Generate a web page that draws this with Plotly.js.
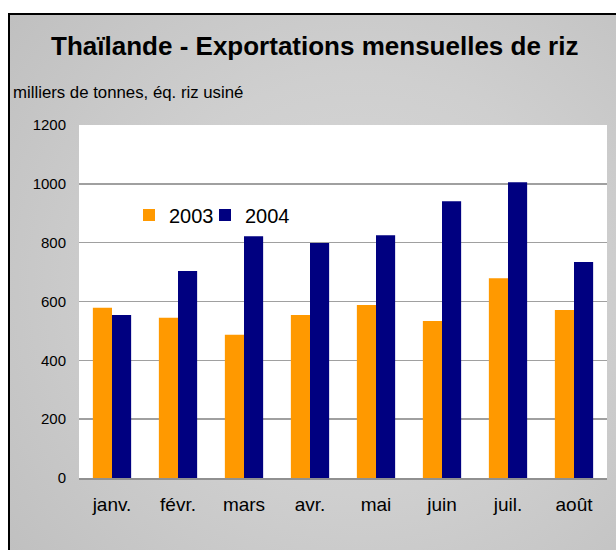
<!DOCTYPE html>
<html>
<head>
<meta charset="utf-8">
<script src="https://cdn.plot.ly/plotly-3.0.1.min.js"></script>
<style>
  html, body { margin: 0; padding: 0; background: #ffffff; width: 616px; height: 550px; overflow: hidden; }
  #frame { position: absolute; left: 8px; top: 13px; width: 700px; height: 600px;
           border-left: 2px solid #000; border-top: 2px solid #000;
           background: radial-gradient(ellipse at 50% 45%, #d8d8d8 0%, #cfcfcf 45%, #bdbdbd 100%); }
  #chart { position: absolute; left: 0; top: 0; width: 616px; height: 550px; }
</style>
</head>
<body>
<div id="frame"></div>
<div id="chart"></div>
<script>
const months = ["janv.", "févr.", "mars", "avr.", "mai", "juin", "juil.", "août"];
const values2003 = [579, 545, 487, 554, 588, 534, 679, 571];
const values2004 = [554, 704, 822, 799, 825, 941, 1005, 734];
const seriesNames = ["2003", "2004"];
const yTicks = [0, 200, 400, 600, 800, 1000, 1200];

const traces = [
  { type: "bar", name: seriesNames[0], x: months, y: values2003, marker: { color: "#FF9900" }, legend: "legend" },
  { type: "bar", name: seriesNames[1], x: months, y: values2004, marker: { color: "#000080" }, legend: "legend2" }
];

const legendCommon = {
  orientation: "h", xanchor: "left", y: 0.745, yanchor: "middle",
  bgcolor: "rgba(0,0,0,0)", font: { size: 20, color: "#000" }
};

const layout = {
  width: 616, height: 550,
  paper_bgcolor: "rgba(0,0,0,0)",
  plot_bgcolor: "#ffffff",
  margin: { l: 79, r: 9, t: 125, b: 72, pad: 0 },
  barmode: "group", bargap: 0.42, bargroupgap: 0,
  font: { family: "Liberation Sans, Arial, sans-serif", color: "#000000" },
  title: {
    text: "<b>Thaïlande - Exportations mensuelles de riz</b>",
    font: { family: "Liberation Sans, Arial, sans-serif", size: 26, color: "#000000" },
    x: 0.511, xanchor: "center", xref: "container",
    y: 1 - 46 / 550, yanchor: "middle", yref: "container"
  },
  xaxis: {
    type: "category",
    showgrid: false, zeroline: false,
    showline: true, linecolor: "#909090", linewidth: 1.5,
    ticks: "", ticklabelstandoff: 9,
    tickfont: { family: "Liberation Sans, Arial, sans-serif", size: 19, color: "#000" }
  },
  yaxis: {
    range: [0, 1200], tickvals: yTicks, ticktext: yTicks.map(String),
    showgrid: true, gridcolor: "#a0a0a0", gridwidth: 1.5,
    zeroline: false, showline: false, ticks: "", ticklabelstandoff: 12,
    tickfont: { size: 15, color: "#000" }
  },
  showlegend: true,
  legend: Object.assign({}, legendCommon, { x: (129 - 79) / 528 }),
  legend2: Object.assign({}, legendCommon, { x: (205 - 79) / 528 }),
  annotations: [{
    text: "milliers de tonnes, éq. riz usiné",
    xref: "paper", yref: "paper", x: (11 - 79) / 528, xanchor: "left",
    y: (478 - 93) / 353, yanchor: "middle", showarrow: false,
    font: { size: 16.8, color: "#000" }
  }]
};

Plotly.newPlot("chart", traces, layout, { displayModeBar: false, staticPlot: true });
</script>
</body>
</html>
